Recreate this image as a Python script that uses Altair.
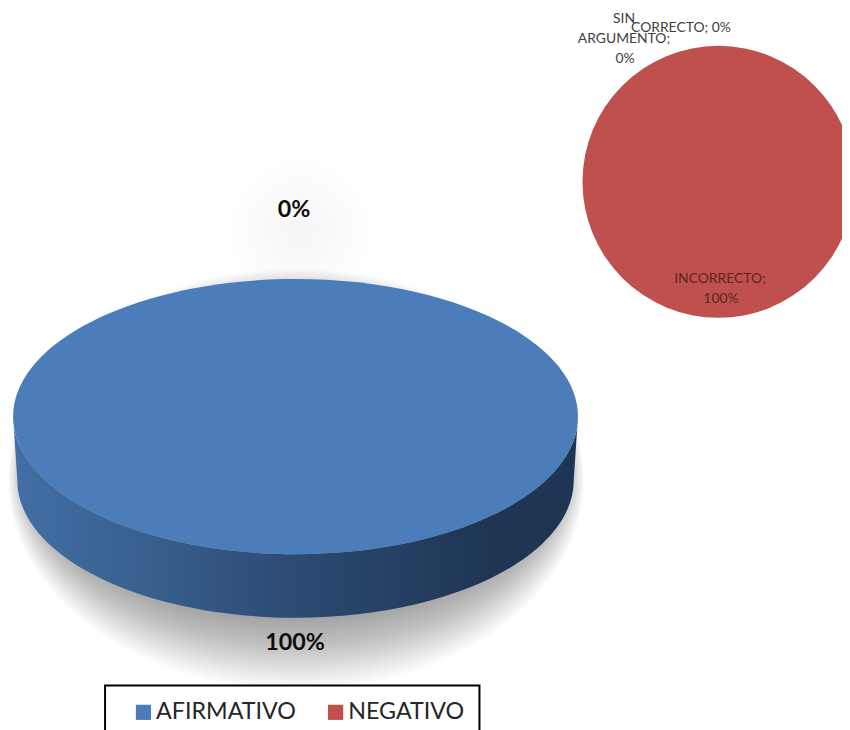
import altair as alt
import pandas as pd

answers = ["AFIRMATIVO", "NEGATIVO"]
answer_values = [100, 0]
reasons = ["CORRECTO", "INCORRECTO", "SIN ARGUMENTO"]
reason_values = [0, 100, 0]

OX, OY = 8, 11
KX, KY = 858 / 850, 738 / 730
def X(v): return alt.value(v * KX - OX)
def Y(v): return alt.value(v * KY - OY)

df = pd.DataFrame({"answer": answers, "value": answer_values})
df2 = pd.DataFrame({"reason": reasons, "value": reason_values})

W = 565 * KX
TOP = "M -1 0 A 1 0.487 0 1 1 1 0 A 1 0.487 0 1 1 -1 0 Z"
SIDE = "M -1 0 A 1 0.487 0 0 0 1 0 L 0.985 0.225 A 0.985 0.487 0 0 1 -0.985 0.225 Z"
ELL = "M -1 0 A 1 1 0 1 1 1 0 A 1 1 0 1 1 -1 0 Z"

size_scale = alt.Scale(domain=[0, 100], range=[0, W * W])
color_scale = alt.Scale(domain=answers, range=["#4a7dba", "#c0504d"])

layers = []

# soft shadow below the 3D pie
N = 28
for i in range(N):
    t = i / (N - 1)
    top, bottom = 310 - 42 * t, 610 + 78 * t
    left, right = 30 - 22 * t, 560 + 24 * t
    w = (right - left) * KX
    ratio = (bottom - top) * KY / w
    shape = f"M -1 0 A 1 {ratio:.4f} 0 1 1 1 0 A 1 {ratio:.4f} 0 1 1 -1 0 Z"
    layers.append(
        alt.Chart(df).transform_filter(alt.datum.value > 0).mark_point(
            filled=True, shape=shape, color="#000000", opacity=0.017, size=w * w
        ).encode(x=X((left + right) / 2), y=Y((top + bottom) / 2))
    )

# faint glow behind the 0% label
glow = alt.Gradient(
    gradient="radial", r1=0, r2=0.5, x1=0.5, x2=0.5, y1=0.5, y2=0.5,
    stops=[alt.GradientStop(color="rgba(0,0,0,0.035)", offset=0),
           alt.GradientStop(color="rgba(0,0,0,0)", offset=1)],
)
layers.append(
    alt.Chart(df).transform_filter(alt.datum.value > 0).mark_point(
        filled=True, shape=ELL, fill=glow, opacity=1, size=150 * 150
    ).encode(x=X(300), y=Y(230))
)

# pie side wall
side_fill = alt.Gradient(
    gradient="linear", x1=0, x2=1, y1=0, y2=0,
    stops=[alt.GradientStop(color="#426fa6", offset=0),
           alt.GradientStop(color="#3a6292", offset=0.2),
           alt.GradientStop(color="#2c4b72", offset=0.5),
           alt.GradientStop(color="#1e3553", offset=0.85),
           alt.GradientStop(color="#1e3653", offset=1)],
)
layers.append(
    alt.Chart(df).mark_point(filled=True, shape=SIDE, fill=side_fill, opacity=1).encode(
        x=X(295.5), y=Y(415.5),
        size=alt.Size("value:Q", scale=size_scale, legend=None),
    )
)

# pie top
layers.append(
    alt.Chart(df).mark_point(filled=True, shape=TOP, opacity=1).encode(
        x=X(295.5), y=Y(415.5),
        size=alt.Size("value:Q", scale=size_scale, legend=None),
        color=alt.Color(
            "answer:N", scale=color_scale, sort=answers,
            legend=alt.Legend(
                title=None, orient="none", direction="horizontal",
                legendX=105 * KX - OX, legendY=684 * KY - OY,
                symbolType="square", symbolSize=235, symbolOpacity=1,
                labelFont="Lato", labelFontSize=23.5, labelColor="#262626",
                strokeColor="#000000", fillColor="#ffffff",
                padding=15, symbolOffset=12, columnPadding=16,
                symbolStrokeWidth=0, labelOffset=1,
            ),
        ),
    )
)

# red pie
layers.append(
    alt.Chart(df2).mark_arc(fill="#bf504d", outerRadius=136 * KX, opacity=1).encode(
        theta=alt.Theta("value:Q", stack=True),
        detail="reason:N",
        x=X(718.5), y=Y(181),
    )
)

def text(label, x, y, size=14, color="#404040", weight="normal"):
    return alt.Chart(pd.DataFrame({"t": [label]})).mark_text(
        font="Lato", fontSize=size, color=color, fontWeight=weight,
        align="center", baseline="middle",
    ).encode(text="t:N", x=X(x), y=Y(y))

layers += [
    text("SIN", 624, 18),
    text("ARGUMENTO;", 624, 38),
    text("0%", 625, 58),
    text("CORRECTO; 0%", 681, 27),
    text("INCORRECTO;", 720, 278, color="#5c2624"),
    text("100%", 721, 298, color="#5c2624"),
    text("0%", 294, 209, size=23.5, color="#0d0d0d", weight="bold"),
    text("100%", 295, 642, size=23.5, color="#0d0d0d", weight="bold"),
]

chart = alt.layer(*layers).resolve_scale(size="shared").properties(
    width=842, height=722, padding=0,
    autosize=alt.AutoSizeParams(type="none"),
).configure_view(stroke=None).configure_legend(strokeWidth=2)

chart.save("out.html", embed_options={"renderer": "svg", "actions": False})
